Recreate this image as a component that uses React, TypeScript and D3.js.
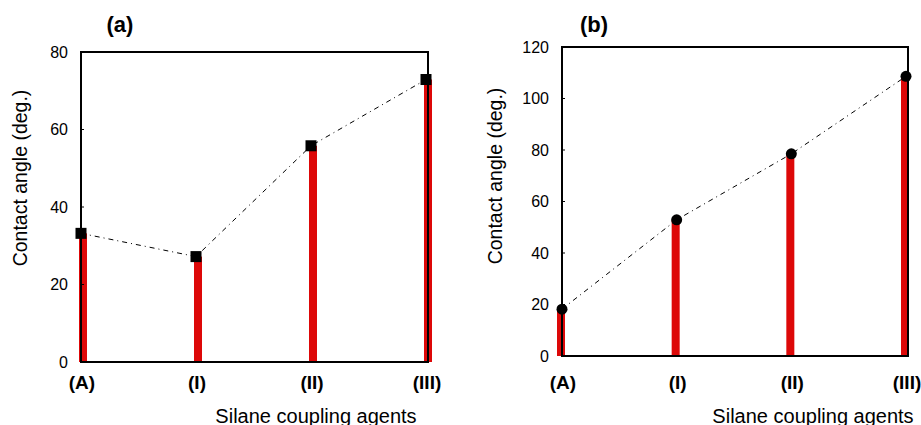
import React from "react";
import * as d3 from "d3";

const categories = ["(A)", "(I)", "(II)", "(III)"];
const valuesA = [33.2, 27.2, 55.8, 72.9];
const valuesB = [18.2, 52.9, 78.5, 108.6];
const ticksA = [0, 20, 40, 60, 80];
const ticksB = [0, 20, 40, 60, 80, 100, 120];
const yLabel = "Contact angle (deg.)";
const xLabel = "Silane coupling agents";

const FONT = "'Liberation Sans', Arial, Helvetica, sans-serif";

type PanelProps = {
  title: string;
  values: number[];
  ticks: number[];
  left: number;
  right: number;
  top: number;
  bottom: number;
  xEnd: number;
  marker: "square" | "circle";
  barOffset: number;
  yLabelX: number;
  yLabelY: number;
  titleX: number;
  xLabelX: number;
};

function Panel(p: PanelProps) {
  const x = d3.scalePoint<string>().domain(categories).range([p.left, p.xEnd]);
  const y = d3
    .scaleLinear()
    .domain([0, d3.max(p.ticks) as number])
    .range([p.bottom, p.top]);
  const line = d3
    .line<number>()
    .x((_, i) => x(categories[i]) as number)
    .y((d) => y(d));
  const barW = 8;
  const ms = 11;
  return (
    <g>
      <text
        x={p.titleX}
        y={32}
        fontFamily={FONT}
        fontWeight="bold"
        fontSize={22}
        textAnchor="middle"
      >
        {p.title}
      </text>
      {p.values.map((v, i) => (
        <rect
          key={"b" + i}
          x={(x(categories[i]) as number) - barW / 2 + p.barOffset}
          y={y(v)}
          width={barW}
          height={p.bottom - y(v)}
          fill="#dd0808"
        />
      ))}
      <rect
        x={p.left}
        y={p.top}
        width={p.right - p.left}
        height={p.bottom - p.top}
        fill="none"
        stroke="#000"
        strokeWidth={2}
      />
      {p.ticks.map((t) => (
        <g key={"t" + t}>
          <line
            x1={p.left}
            x2={p.left + 3}
            y1={y(t)}
            y2={y(t)}
            stroke="#000"
            strokeWidth={1}
          />
          <text
            x={p.left - 13}
            y={y(t)}
            dy="0.36em"
            textAnchor="end"
            fontFamily={FONT}
            fontSize={16}
          >
            {t}
          </text>
        </g>
      ))}
      <path
        d={line(p.values) || ""}
        fill="none"
        stroke="#000"
        strokeWidth={1}
        strokeDasharray="5,4,1,4"
      />
      {p.values.map((v, i) =>
        p.marker === "square" ? (
          <rect
            key={"m" + i}
            x={(x(categories[i]) as number) - ms / 2}
            y={y(v) - ms / 2}
            width={ms}
            height={ms}
            fill="#000"
          />
        ) : (
          <circle
            key={"m" + i}
            cx={x(categories[i]) as number}
            cy={y(v)}
            r={5.5}
            fill="#000"
          />
        )
      )}
      {categories.map((c) => (
        <text
          key={"x" + c}
          x={(x(c) as number) + 1}
          y={382}
          dy="0.35em"
          textAnchor="middle"
          fontFamily={FONT}
          fontWeight="bold"
          fontSize={19}
        >
          {c}
        </text>
      ))}
      <text
        x={p.xLabelX}
        y={423}
        textAnchor="middle"
        fontFamily={FONT}
        fontSize={20}
      >
        {xLabel}
      </text>
      <text
        transform={`translate(${p.yLabelX},${p.yLabelY}) rotate(-90)`}
        textAnchor="middle"
        dy="0.35em"
        fontFamily={FONT}
        fontSize={19.5}
      >
        {yLabel}
      </text>
    </g>
  );
}

export default function App() {
  return (
    <svg
      width={921}
      height={425}
      style={{ position: "absolute", left: 0, top: 0, background: "#fff" }}
    >
      <rect width={921} height={425} fill="#fff" />
      <Panel
        title="(a)"
        values={valuesA}
        ticks={ticksA}
        left={81}
        right={428}
        top={52}
        bottom={362}
        xEnd={426}
        marker="square"
        barOffset={2}
        yLabelX={20}
        yLabelY={178}
        titleX={120}
        xLabelX={316}
      />
      <Panel
        title="(b)"
        values={valuesB}
        ticks={ticksB}
        left={562}
        right={908}
        top={47}
        bottom={356}
        xEnd={906}
        marker="circle"
        barOffset={-1}
        yLabelX={495}
        yLabelY={176}
        titleX={594}
        xLabelX={813}
      />
    </svg>
  );
}
